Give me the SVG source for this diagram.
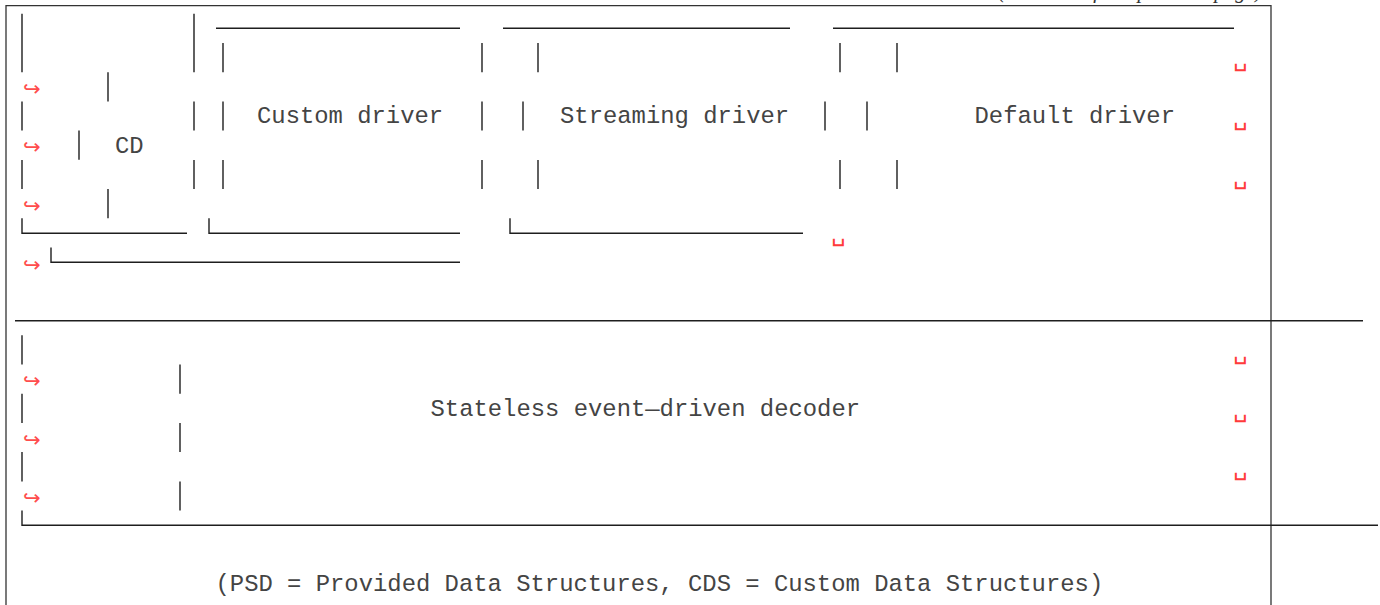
<svg xmlns="http://www.w3.org/2000/svg" width="1380" height="605" viewBox="0 0 1380 605">
<style>
.bg{fill:#ffffff}
.frame{fill:none;stroke:#333;stroke-width:1.3}
.box{fill:none;stroke:#1e1e1e;stroke-width:1.4}
.t{font-family:"Liberation Mono","Courier New",monospace;font-size:23.87px;fill:#444}
.wrap{font-family:"DejaVu Sans","DejaVu Sans Mono",sans-serif;font-size:21px;fill:#ff4d4d}
.sp{font-family:"DejaVu Sans Mono",monospace;font-size:24px;fill:#ff3b3b}
.cont{font-family:"Liberation Serif","Times New Roman",serif;font-style:italic;font-size:21px;fill:#333}
</style>
<rect class="bg" x="0" y="0" width="1380" height="605"/>
<g id="frame">
<text class="cont" x="1262" y="-2" text-anchor="end">(continued from previous page)</text>
<path class="frame" d="M6,605 V5.7 H1271 V605"/>
</g>
<g id="node-cd">
<path class="box" d="M22,13.7 V72.2 M22,101.4 V130.6 M22,159.9 V189.1 M22,218.3 V233.3 H187 M194,13.7 V72.2 M194,101.4 V130.6 M194,159.9 V189.1 M108,72.2 V101.4 M108,189.1 V218.3 M79,130.6 V159.8"/>
<text class="t" x="115" y="152.5">CD</text>
</g>
<g id="node-custom-driver">
<path class="box" d="M216,28.3 H460 M223,42.9 V72.2 M223,101.4 V130.6 M223,159.9 V189.1 M482,42.9 V72.2 M482,101.4 V130.6 M482,159.9 V189.1 M209,218.3 V233.3 H460 M51,247.5 V262.3 H460"/>
<text class="t" x="257" y="123.3">Custom driver</text>
</g>
<g id="node-streaming-driver">
<path class="box" d="M503,28.3 H790 M538,42.9 V72.2 M523,101.4 V130.6 M538,159.9 V189.1 M840,42.9 V72.2 M825,101.4 V130.6 M840,159.9 V189.1 M510,218.3 V233.3 H803"/>
<text class="t" x="560" y="123.3">Streaming driver</text>
</g>
<g id="node-default-driver">
<path class="box" d="M833,28.3 H1234 M897,42.9 V72.2 M867,101.4 V130.6 M897,159.9 V189.1"/>
<text class="t" x="974.5" y="123.3">Default driver</text>
</g>
<g id="node-decoder">
<path class="box" d="M15,320.7 H1363 M22,335.2 V364.5 M22,393.7 V422.9 M22,452.1 V481.4 M180,364.5 V393.7 M180,422.9 V452.1 M180,481.4 V510.6 M22,510.6 V525.3 H1378"/>
<text class="t" x="430.5" y="415.6">Stateless event—driven decoder</text>
</g>
<g id="node-caption">
<text class="t" x="215.5" y="591">(PSD = Provided Data Structures, CDS = Custom Data Structures)</text>
</g>
<g id="connectors">
<g id="wrap-markers">
<text class="wrap" x="23" y="95.8">↪</text>
<text class="wrap" x="23" y="154.3">↪</text>
<text class="wrap" x="23" y="212.8">↪</text>
<text class="wrap" x="23" y="271.8">↪</text>
<text class="wrap" x="23" y="387.8">↪</text>
<text class="wrap" x="23" y="446.8">↪</text>
<text class="wrap" x="23" y="504.8">↪</text>
<text class="sp" x="1233" y="66">␣</text>
<text class="sp" x="1233" y="124.5">␣</text>
<text class="sp" x="1233" y="183.5">␣</text>
<text class="sp" x="831" y="241">␣</text>
<text class="sp" x="1233" y="359">␣</text>
<text class="sp" x="1233" y="416.5">␣</text>
<text class="sp" x="1233" y="475">␣</text>
</g>
</g>
</svg>
